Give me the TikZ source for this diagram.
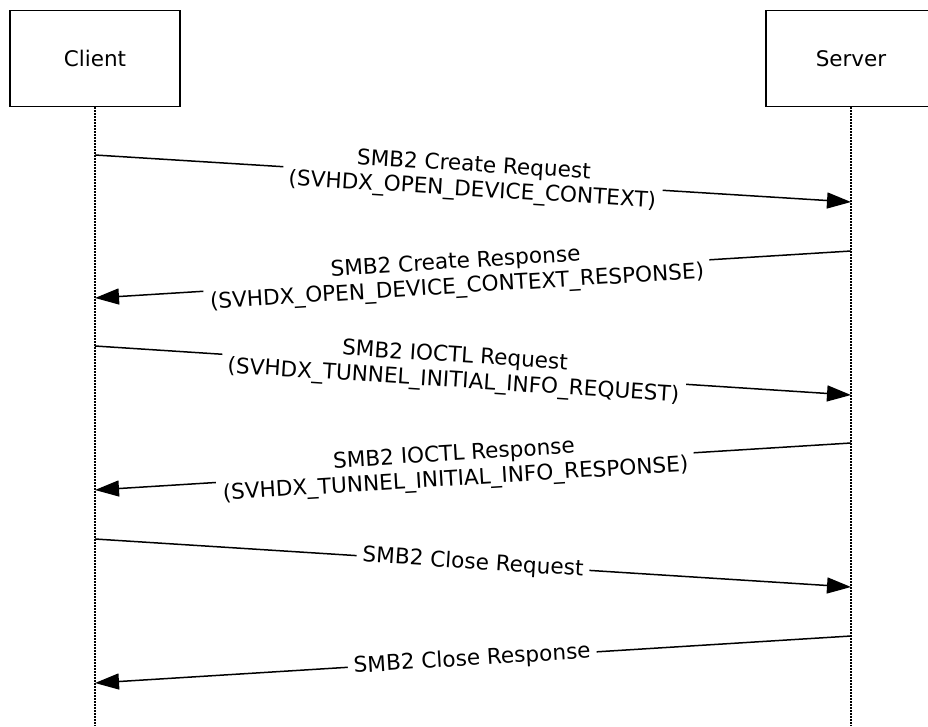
\documentclass[tikz,border=0pt]{standalone}
\usepackage{fontspec}
\setmainfont{DejaVu Sans}
\usetikzlibrary{arrows.meta}
\begin{document}
\begin{tikzpicture}[x=1pt,y=-1pt,
  actor/.style={draw,line width=1.3pt,minimum width=170pt,minimum height=96pt,inner sep=0pt,font=\fontsize{21.5}{25}\selectfont},
  lifeline/.style={line width=1.4pt,dash pattern=on 1.4pt off 1.6pt},
  msg/.style={line width=1.5pt,-{Triangle[length=24pt,width=16pt]}},
  lbl/.style={fill=white,sloped,inner xsep=6pt,inner ysep=1pt,align=center,font=\fontsize{21.6}{25}\selectfont}]
\clip (0,0) rectangle (928,726);
\node[actor] (client) at (95,58.8) {Client};
\node[actor] (server) at (851,58.8) {Server};
\coordinate (cend) at (95,726);
\coordinate (send) at (851,726);
\draw[lifeline] (client.south) -- (cend);
\draw[lifeline] (server.south) -- (send);
% message end points on the lifelines
\coordinate (c1) at (95,155);  \coordinate (s1) at (851,202);
\coordinate (s2) at (851,251); \coordinate (c2) at (95,298);
\coordinate (c3) at (95,346);  \coordinate (s3) at (851,395);
\coordinate (s4) at (851,443); \coordinate (c4) at (95,490);
\coordinate (c5) at (95,539);  \coordinate (s5) at (851,587);
\coordinate (s6) at (851,636); \coordinate (c6) at (95,683);
\draw[msg] (c1) -- node[lbl,pos=0.5] (m1) {SMB2 Create Request\\(SVHDX\_OPEN\_DEVICE\_CONTEXT)} (s1);
\draw[msg] (s2) -- node[lbl,pos=0.522] (m2) {SMB2 Create Response\\(SVHDX\_OPEN\_DEVICE\_CONTEXT\_RESPONSE)} (c2);
\draw[msg] (c3) -- node[lbl,pos=0.475] (m3) {SMB2 IOCTL Request\\(SVHDX\_TUNNEL\_INITIAL\_INFO\_REQUEST)} (s3);
\draw[msg] (s4) -- node[lbl,pos=0.524] (m4) {SMB2 IOCTL Response\\(SVHDX\_TUNNEL\_INITIAL\_INFO\_RESPONSE)} (c4);
\draw[msg] (c5) -- node[lbl,pos=0.5] (m5) {SMB2 Close Request} (s5);
\draw[msg] (s6) -- node[lbl,pos=0.501] (m6) {SMB2 Close Response} (c6);
\end{tikzpicture}
\end{document}
